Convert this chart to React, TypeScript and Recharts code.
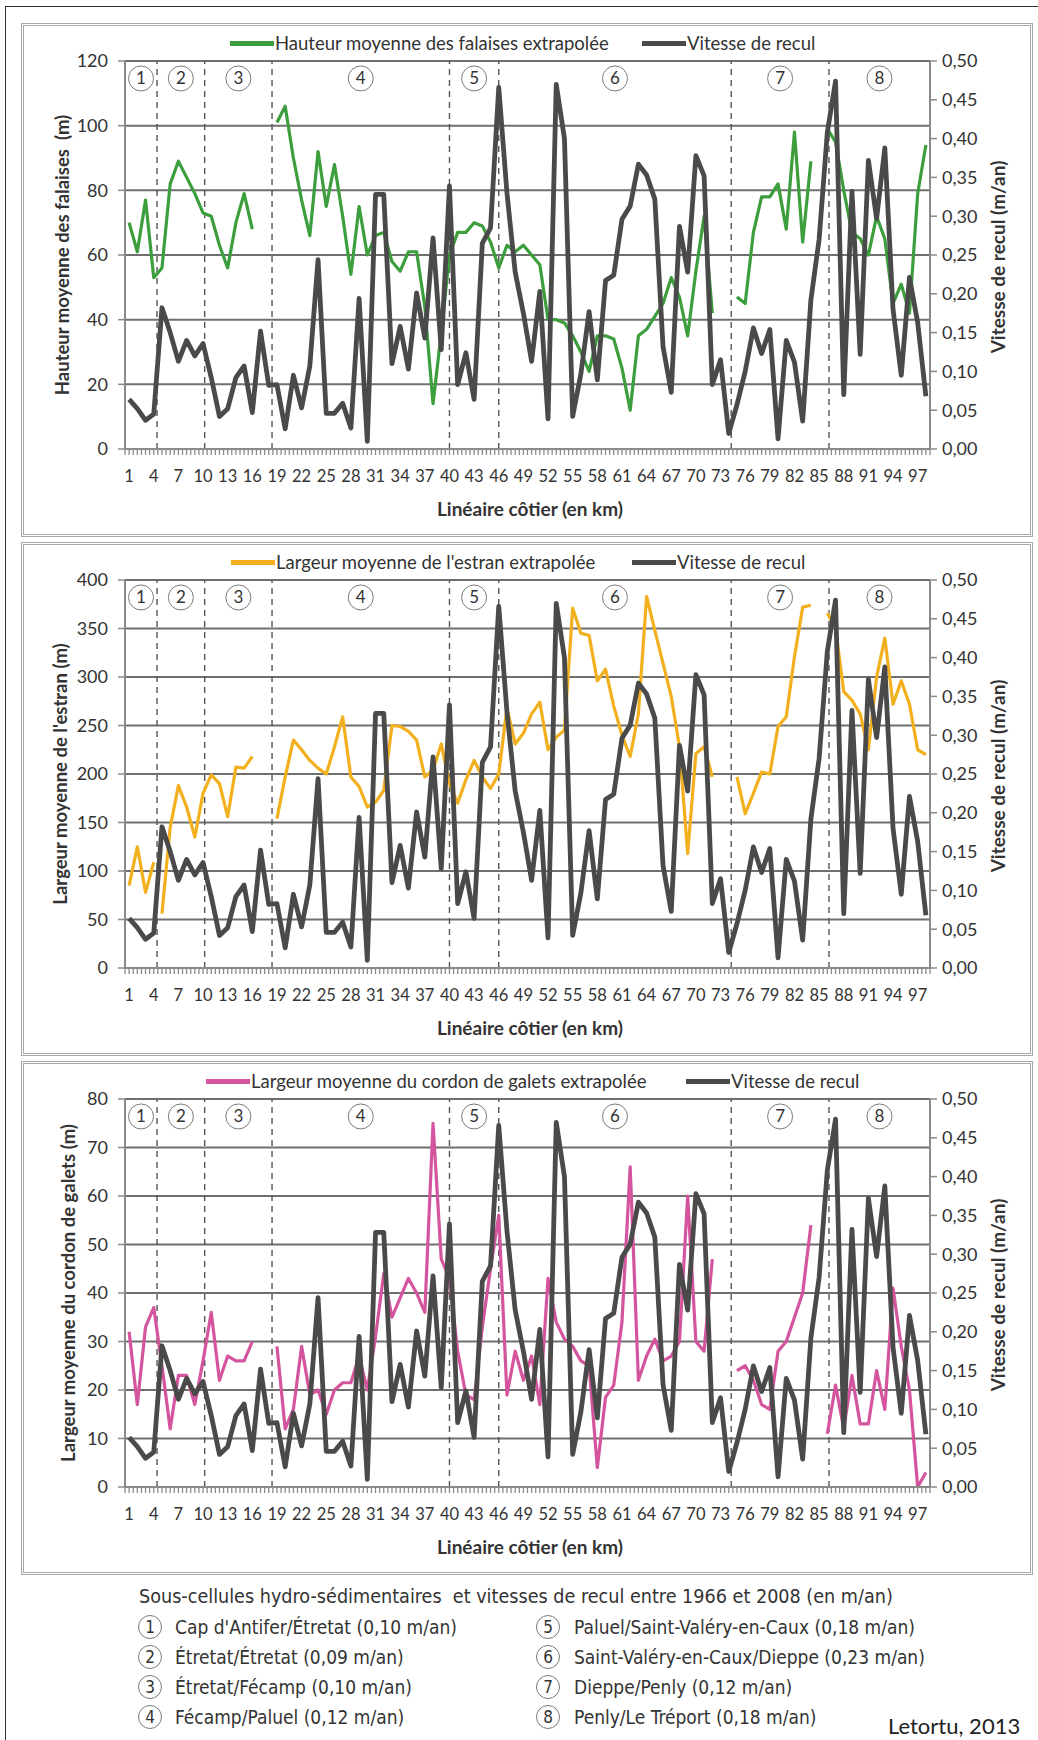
import React from "react";
import {
  LineChart,
  Line,
  XAxis,
  YAxis,
  CartesianGrid,
  ReferenceLine,
  ReferenceDot,
} from "recharts";

// points kilométriques du linéaire côtier
const kmPoints = Array.from({ length: 98 }, (_, i) => i + 1);
const kmLabels = [
  1, 4, 7, 10, 13, 16, 19, 22, 25, 28, 31, 34, 37, 40, 43, 46, 49, 52, 55, 58,
  61, 64, 67, 70, 73, 76, 79, 82, 85, 88, 91, 94, 97,
];

// vitesse de recul (m/an), commune aux trois graphiques
const vitesseRecul = [
  0.064, 0.052, 0.037, 0.045, 0.182, 0.15, 0.113, 0.14, 0.12, 0.136,
  0.092, 0.042, 0.052, 0.092, 0.107, 0.047, 0.152, 0.082, 0.083, 0.026,
  0.095, 0.053, 0.107, 0.244, 0.046, 0.046, 0.059, 0.027, 0.194, 0.01,
  0.328, 0.328, 0.11, 0.158, 0.103, 0.201, 0.143, 0.272, 0.128, 0.339,
  0.083, 0.124, 0.064, 0.265, 0.285, 0.466, 0.33, 0.228, 0.175, 0.113,
  0.203, 0.039, 0.47, 0.4, 0.042, 0.097, 0.177, 0.089, 0.217, 0.224,
  0.296, 0.313, 0.367, 0.353, 0.322, 0.132, 0.073, 0.287, 0.228, 0.378,
  0.352, 0.083, 0.115, 0.02, 0.057, 0.1, 0.156, 0.123, 0.154, 0.013,
  0.14, 0.112, 0.036, 0.192, 0.27, 0.408, 0.474, 0.07, 0.332, 0.122,
  0.372, 0.297, 0.388, 0.18, 0.095, 0.221, 0.163, 0.068,
];

// hauteur moyenne des falaises (m)
const hauteurFalaises = [
  70, 61, 77, 53, 56, 82, 89, 84, 79, 73,
  72, 63, 56, 70, 79, 68, null, null, 101, 106,
  90, 77, 66, 92, 75, 88, 72, 54, 75, 60,
  66, 67, 58, 55, 61, 61, 44, 14, 36, 60,
  67, 67, 70, 69, 64, 56, 63, 61, 63, 60,
  57, 40, 40, 39, 35, 30, 24, 35, 35, 34,
  25, 12, 35, 37, 41, 45, 53, 47, 35, 55,
  72, 42, null, null, 47, 45, 67, 78, 78, 82,
  68, 98, 64, 89, null, 99, 95, 80, 67, 65,
  60, 72, 65, 45, 51, 42, 79, 94,
];

// largeur moyenne de l'estran (m)
const largeurEstran = [
  85, 125, 78, 109, 56, 145, 188, 166, 135, 180,
  199, 190, 156, 207, 206, 218, null, null, 154, 197,
  235, 225, 214, 206, 200, 228, 259, 197, 187, 166,
  171, 183, 250, 249, 244, 235, 197, 204, 231, 190,
  170, 194, 214, 197, 185, 200, 268, 231, 242, 262,
  274, 225, 238, 245, 371, 345, 343, 296, 308, 270,
  240, 218, 262, 383, 348, 314, 280, 228, 118, 221,
  228, 197, null, null, 197, 159, 180, 202, 200, 249,
  259, 321, 372, 374, null, 366, 350, 285, 276, 262,
  225, 300, 340, 272, 296, 272, 225, 220,
];

// largeur moyenne du cordon de galets (m)
const largeurGalets = [
  32, 17, 33, 37, 25, 12, 23, 23, 17, 26,
  36, 22, 27, 26, 26, 30, null, null, 29, 12,
  16, 29, 19, 20, 15, 20, 21.5, 21.5, 27, 20,
  31, 44, 35, 39, 43, 40, 36, 75, 47, 43,
  28, 19, 18, 33, 45, 56, 19, 28, 22, 27,
  17, 43, 34, 30.5, 29, 26, 25, 4, 18.5, 21,
  34, 66, 22, 27, 30.5, 26, 27, 30, 60, 30,
  28, 47, null, null, 24, 25, 22, 17, 16, 28,
  30, 35, 40, 54, null, 11, 21, 12, 23, 13,
  13, 24, 16, 41, 29, 20, 0, 3,
];

// limites des sous-cellules (en km)
const subCellBounds = [4.4, 10.2, 18.4, 40, 46, 74.3, 86.2];
const subCellNames = ["1", "2", "3", "4", "5", "6", "7", "8"];
const subCellLegend = [
  "Cap d'Antifer/Étretat (0,10 m/an)",
  "Étretat/Étretat (0,09 m/an)",
  "Étretat/Fécamp (0,10 m/an)",
  "Fécamp/Paluel (0,12 m/an)",
  "Paluel/Saint-Valéry-en-Caux (0,18 m/an)",
  "Saint-Valéry-en-Caux/Dieppe (0,23 m/an)",
  "Dieppe/Penly (0,12 m/an)",
  "Penly/Le Tréport (0,18 m/an)",
];

const reculTicks = [0, 0.05, 0.1, 0.15, 0.2, 0.25, 0.3, 0.35, 0.4, 0.45, 0.5];

const FONT = "Lato, 'Open Sans', sans-serif";
const NARROW = "'DejaVu Sans Condensed', 'Liberation Sans Narrow', 'DejaVu Sans', sans-serif";
const TEXT = "#333";
const AXIS = "#8a8a8a";
const GRID = "#6f6f6f";
const RECUL = "#4a4a4a";

const PLOT_LEFT = 125;
const PLOT_RIGHT = 930;
const PLOT_H = 388;
const MARGIN_TOP = 40;
const X_AXIS_H = 90;
const CHART_W = 1038;
const CHART_H = MARGIN_TOP + PLOT_H + X_AXIS_H;

const xTicks = kmPoints.flatMap((k) => [k - 0.5, k]).concat(98.5);
const cellEdges = [0.5, ...subCellBounds, 98.5];
const cellCenters = subCellNames.map((_, i) => (cellEdges[i] + cellEdges[i + 1]) / 2);

type PanelDef = {
  id: string;
  plotTop: number;
  label: string;
  swatchX: number;
  reculSwatchX: number;
  leftTitle: string;
  leftTitleX: number;
  color: string;
  values: (number | null)[];
  leftMax: number;
  leftTicks: number[];
  breaks: number[];
};

const panels: PanelDef[] = [
  {
    id: "falaises",
    plotTop: 61,
    label: "Hauteur moyenne des falaises extrapolée",
    swatchX: 230,
    reculSwatchX: 642,
    leftTitle: "Hauteur moyenne des falaises  (m)",
    leftTitleX: 62,
    color: "#3c9e3c",
    values: hauteurFalaises,
    leftMax: 120,
    leftTicks: [0, 20, 40, 60, 80, 100, 120],
    breaks: [],
  },
  {
    id: "estran",
    plotTop: 580,
    label: "Largeur moyenne de l'estran extrapolée",
    swatchX: 231,
    reculSwatchX: 632,
    leftTitle: "Largeur moyenne de l'estran (m)",
    leftTitleX: 60,
    color: "#f2b01e",
    values: largeurEstran,
    leftMax: 400,
    leftTicks: [0, 50, 100, 150, 200, 250, 300, 350, 400],
    breaks: [5],
  },
  {
    id: "galets",
    plotTop: 1099,
    label: "Largeur moyenne du cordon de galets extrapolée",
    swatchX: 206,
    reculSwatchX: 686,
    leftTitle: "Largeur moyenne du cordon de galets (m)",
    leftTitleX: 68,
    color: "#d4559e",
    values: largeurGalets,
    leftMax: 80,
    leftTicks: [0, 10, 20, 30, 40, 50, 60, 70, 80],
    breaks: [],
  },
];

function buildRows(values: (number | null)[], breaks: number[]) {
  return kmPoints.map((km, i) => {
    const seg = breaks.filter((b) => km >= b).length;
    const row: Record<string, number | null> = { km, recul: vitesseRecul[i] };
    for (let s = 0; s <= breaks.length; s++) {
      row[`seg${s}`] = s === seg ? values[i] : null;
    }
    return row;
  });
}

const KmTick = (props: any) => {
  const { x, y, payload } = props;
  if (!kmLabels.includes(payload.value)) return <g />;
  return (
    <text x={x} y={y} dy={27} textAnchor="middle" fill={TEXT} fontSize={16.5} fontFamily={FONT}>
      {payload.value}
    </text>
  );
};

const fmtRecul = (v: number) => v.toFixed(2).replace(".", ",");

function Panel(p: PanelDef) {
  const rows = buildRows(p.values, p.breaks);
  const segKeys = p.breaks.map((_, i) => `seg${i + 1}`).concat("seg0");
  const legendY = p.plotTop - 18;
  const plotMid = p.plotTop + PLOT_H / 2;
  const legendText = {
    position: "absolute" as const,
    top: legendY - 12,
    fontSize: 18.5,
    lineHeight: "24px",
    whiteSpace: "nowrap" as const,
    color: TEXT,
  };

  return (
    <>
      <div
        style={{
          position: "absolute",
          left: 21,
          top: p.plotTop - 38,
          width: 1012,
          height: PLOT_H + 126,
          boxSizing: "border-box",
          border: "3px double #a8a8a8",
        }}
      />
      <div style={{ position: "absolute", left: 0, top: p.plotTop - MARGIN_TOP }}>
        <LineChart
          width={CHART_W}
          height={CHART_H}
          data={rows}
          margin={{ top: MARGIN_TOP, right: 0, bottom: 0, left: 0 }}
        >
          <CartesianGrid yAxisId="left" vertical={false} stroke={GRID} strokeWidth={2} />
          <XAxis
            dataKey="km"
            type="number"
            domain={[0.5, 98.5]}
            ticks={xTicks}
            interval={0}
            height={X_AXIS_H}
            tickSize={6}
            tickMargin={0}
            tick={<KmTick />}
            axisLine={{ stroke: AXIS, strokeWidth: 2 }}
            tickLine={{ stroke: AXIS, strokeWidth: 1.3 }}
            allowDataOverflow
          />
          <YAxis
            yAxisId="left"
            orientation="left"
            width={PLOT_LEFT}
            domain={[0, p.leftMax]}
            ticks={p.leftTicks}
            interval={0}
            tickSize={7}
            tickMargin={10}
            axisLine={{ stroke: AXIS, strokeWidth: 2 }}
            tickLine={{ stroke: AXIS, strokeWidth: 1.5 }}
            tick={{ fill: TEXT, fontSize: 18, fontFamily: FONT }}
            allowDataOverflow
          />
          <YAxis
            yAxisId="right"
            orientation="right"
            width={CHART_W - PLOT_RIGHT}
            domain={[0, 0.5]}
            ticks={reculTicks}
            interval={0}
            tickSize={7}
            tickMargin={5}
            tickFormatter={fmtRecul}
            axisLine={{ stroke: AXIS, strokeWidth: 2 }}
            tickLine={{ stroke: AXIS, strokeWidth: 1.5 }}
            tick={{ fill: TEXT, fontSize: 18, fontFamily: FONT }}
            allowDataOverflow
          />
          {subCellBounds.map((b) => (
            <ReferenceLine
              key={b}
              x={b}
              yAxisId="left"
              stroke="#555"
              strokeWidth={1.4}
              strokeDasharray="6 5"
            />
          ))}
          {cellCenters.map((c, i) => (
            <ReferenceDot
              key={subCellNames[i]}
              x={c}
              y={p.leftMax * 0.955}
              yAxisId="left"
              r={12.5}
              fill="#fff"
              stroke="#7a7a7a"
              strokeWidth={1}
              label={{ value: subCellNames[i], position: "center", fill: TEXT, fontSize: 17, fontFamily: FONT }}
            />
          ))}
          {segKeys.map((k) => (
            <Line
              key={k}
              yAxisId="left"
              dataKey={k}
              type="linear"
              stroke={p.color}
              strokeWidth={3.2}
              strokeLinejoin="round"
              dot={false}
              activeDot={false}
              isAnimationActive={false}
            />
          ))}
          <Line
            yAxisId="right"
            dataKey="recul"
            type="linear"
            stroke={RECUL}
            strokeWidth={4.8}
            strokeLinejoin="round"
            dot={false}
            activeDot={false}
            isAnimationActive={false}
          />
        </LineChart>
      </div>

      {/* légende */}
      <div style={{ position: "absolute", left: p.swatchX, top: legendY - 2.5, width: 44, height: 5, background: p.color }} />
      <div style={{ ...legendText, left: p.swatchX + 45 }}>{p.label}</div>
      <div style={{ position: "absolute", left: p.reculSwatchX, top: legendY - 2.5, width: 44, height: 5, background: RECUL }} />
      <div style={{ ...legendText, left: p.reculSwatchX + 45 }}>Vitesse de recul</div>

      {/* titres des axes */}
      <div
        style={{
          position: "absolute",
          left: p.leftTitleX,
          top: plotMid,
          transform: "translate(-50%, -50%) rotate(-90deg)",
          whiteSpace: "pre",
          fontWeight: 700,
          fontSize: 18.5,
          color: TEXT,
        }}
      >
        {p.leftTitle}
      </div>
      <div
        style={{
          position: "absolute",
          left: 997,
          top: plotMid + 2,
          transform: "translate(-50%, -50%) rotate(-90deg)",
          whiteSpace: "nowrap",
          fontWeight: 700,
          fontSize: 19,
          color: TEXT,
        }}
      >
        Vitesse de recul (m/an)
      </div>
      <div
        style={{
          position: "absolute",
          left: 530,
          top: p.plotTop + PLOT_H + 59,
          transform: "translate(-50%, -50%)",
          whiteSpace: "nowrap",
          fontWeight: 700,
          fontSize: 19,
          color: TEXT,
        }}
      >
        Linéaire côtier (en km)
      </div>
    </>
  );
}

function SubCellKey() {
  const rows = [1627, 1657, 1687, 1717];
  const narrow = {
    fontFamily: NARROW,
    fontStretch: "condensed" as const,
    color: TEXT,
    whiteSpace: "pre" as const,
  };
  const item = (i: number) => {
    const col = i < 4 ? 0 : 1;
    const cx = col === 0 ? 150 : 548;
    const cy = rows[i % 4];
    return (
      <React.Fragment key={i}>
        <div
          style={{
            ...narrow,
            position: "absolute",
            left: cx - 12,
            top: cy - 12,
            width: 24,
            height: 24,
            boxSizing: "border-box",
            borderRadius: "50%",
            border: "1px solid #777",
            fontSize: 17,
            lineHeight: "22px",
            textAlign: "center",
          }}
        >
          {subCellNames[i]}
        </div>
        <div
          style={{
            ...narrow,
            position: "absolute",
            left: col === 0 ? 175 : 574,
            top: cy - 13,
            fontSize: 19,
            lineHeight: "26px",
          }}
        >
          {subCellLegend[i]}
        </div>
      </React.Fragment>
    );
  };
  return (
    <>
      <div style={{ ...narrow, position: "absolute", left: 139, top: 1584, fontSize: 19.6, lineHeight: "26px" }}>
        {"Sous-cellules hydro-sédimentaires  et vitesses de recul entre 1966 et 2008 (en m/an)"}
      </div>
      {subCellLegend.map((_, i) => item(i))}
      <div
        style={{
          position: "absolute",
          left: 888,
          top: 1714,
          fontSize: 22,
          lineHeight: "24px",
          whiteSpace: "nowrap",
          color: "#222",
        }}
      >
        Letortu, 2013
      </div>
    </>
  );
}

export default function App() {
  return (
    <div
      style={{
        position: "absolute",
        left: 0,
        top: 0,
        width: 1038,
        height: 1740,
        overflow: "hidden",
        background: "#fff",
        fontFamily: FONT,
        color: TEXT,
      }}
    >
      <div
        style={{
          position: "absolute",
          left: 5,
          top: 6,
          right: 0,
          bottom: 0,
          borderLeft: "1.5px solid #333",
          borderTop: "1.5px solid #333",
        }}
      />
      {panels.map((p) => (
        <Panel key={p.id} {...p} />
      ))}
      <SubCellKey />
    </div>
  );
}
